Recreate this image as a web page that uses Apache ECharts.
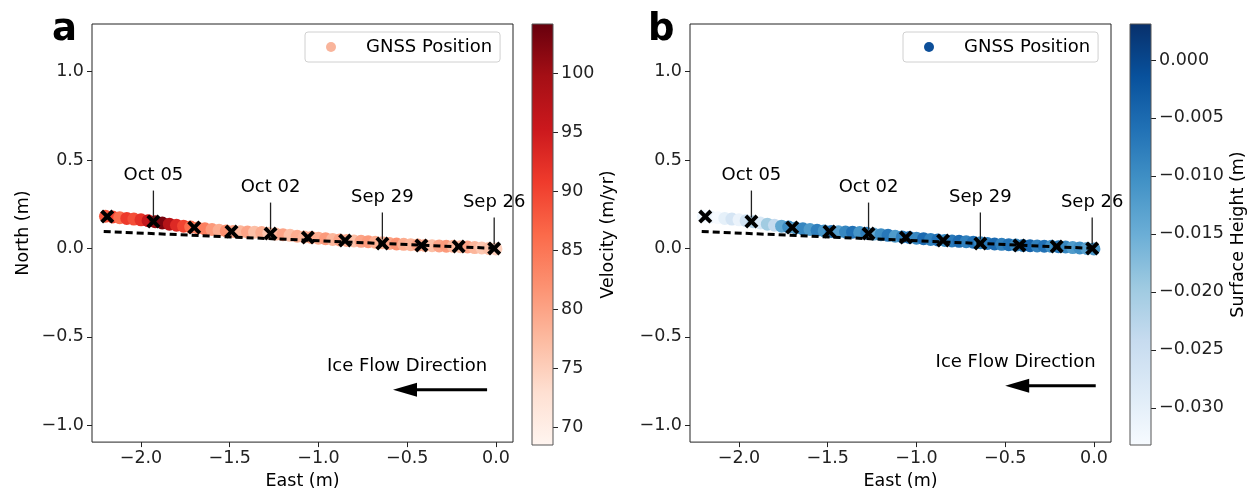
<!DOCTYPE html>
<html><head><meta charset="utf-8">
<script src="https://cdn.jsdelivr.net/npm/echarts@6/dist/echarts.min.js"></script>
<style>html,body{margin:0;padding:0;background:#fff}#c{width:1252px;height:495px}</style>
</head><body><div id="c"></div>
<script>
// ---- data ----
const trackEast = [-2.20,-2.16,-2.12,-2.08,-2.04,-2.00,-1.96,-1.92,-1.88,-1.84,-1.80,-1.76,-1.72,-1.68,-1.64,-1.60,-1.56,-1.52,-1.48,-1.44,-1.40,-1.36,-1.32,-1.28,-1.24,-1.20,-1.16,-1.12,-1.08,-1.04,-1.00,-0.96,-0.92,-0.88,-0.84,-0.80,-0.76,-0.72,-0.68,-0.64,-0.60,-0.56,-0.52,-0.48,-0.44,-0.40,-0.36,-0.32,-0.28,-0.24,-0.20,-0.16,-0.12,-0.08,-0.04,0.00];
const trackNorth = [0.182,0.178,0.174,0.170,0.166,0.162,0.157,0.151,0.144,0.137,0.131,0.126,0.121,0.116,0.111,0.107,0.103,0.099,0.096,0.094,0.093,0.092,0.090,0.086,0.081,0.078,0.074,0.069,0.065,0.062,0.058,0.055,0.051,0.048,0.045,0.042,0.040,0.038,0.035,0.032,0.028,0.025,0.023,0.021,0.019,0.017,0.015,0.014,0.013,0.012,0.010,0.008,0.005,0.003,0.000,-0.003];
const velocity = [88,90,86,91,89,92,96,101,103,98,93,90,86,83,84,81,79,82,80,78,80,77,79,76,78,80,77,79,78,80,79,81,78,80,79,77,80,81,79,78,80,82,79,78,80,79,77,80,81,78,77,80,78,76,77,75];
const surfaceHeight = [-0.032,-0.031,-0.033,-0.030,-0.027,-0.031,-0.026,-0.022,-0.028,-0.020,-0.024,-0.014,-0.010,-0.013,-0.009,-0.012,-0.008,-0.011,-0.007,-0.013,-0.009,-0.006,-0.011,-0.008,-0.014,-0.010,-0.007,-0.012,-0.008,-0.006,-0.009,-0.005,-0.008,-0.006,-0.010,-0.007,-0.005,-0.008,-0.006,-0.009,-0.007,-0.005,-0.008,-0.006,-0.009,-0.007,-0.004,-0.008,-0.006,-0.010,-0.007,-0.009,-0.012,-0.010,-0.013,-0.011];
const markerDates = ['Oct 06','Oct 05','Oct 04','Oct 03','Oct 02','Oct 01','Sep 30','Sep 29','Sep 28','Sep 27','Sep 26'];
const markerEast = [-2.19,-1.93,-1.70,-1.49,-1.27,-1.06,-0.85,-0.64,-0.42,-0.21,-0.01];
const markerNorth = [0.180,0.152,0.118,0.096,0.084,0.062,0.045,0.028,0.017,0.011,0.000];
const annotatedDates = ['Oct 05','Oct 02','Sep 29','Sep 26'];
const flowEast = [-2.21, 0.00];
const flowNorth = [0.096, 0.000];
const arrowA = [-0.05,-0.80,-0.58,-0.80];
const arrowB = [0.01,-0.777,-0.50,-0.777];
const xTicks = [-2.0,-1.5,-1.0,-0.5,0.0];
const yTicks = [-1.0,-0.5,0.0,0.5,1.0];
const velTicks = [70,75,80,85,90,95,100];
const hTicks = [-0.030,-0.025,-0.020,-0.015,-0.010,-0.005,0.000];
const xRange = [-2.276, 0.096];
const yRange = [-1.096, 1.27];
const velRange = [68.5, 104.2];
const hRange = [-0.0332, 0.0031];
const REDS = ['#fff5f0','#fee0d2','#fcbba1','#fc9272','#fb6a4a','#ef3b2c','#cb181d','#a50f15','#67000d'];
const BLUES = ['#f7fbff','#deebf7','#c6dbef','#9ecae1','#6baed6','#4292c6','#2171b5','#08519c','#08306b'];

const FONT = 'DejaVu Sans';
const TICKFS = 17.5;
const minus = v => (v < -1e-12 ? '\u2212' : '');
const fmt1 = v => minus(v) + Math.abs(v).toFixed(1);
const fmt3 = v => minus(v) + Math.abs(v).toFixed(3);

const trackA = trackEast.map((e,i)=>[e, trackNorth[i], velocity[i]]);
const trackB = trackEast.map((e,i)=>[e, trackNorth[i], surfaceHeight[i]]);
const markers = markerEast.map((e,i)=>[e, markerNorth[i]]);
const annot = annotatedDates.map(d => { const i = markerDates.indexOf(d); return [markerEast[i], markerNorth[i], i]; });
const flowLine = flowEast.map((e,i)=>[e, flowNorth[i]]);
const XSYM = 'path://M0,2 L2,0 L5,3 L8,0 L10,2 L7,5 L10,8 L8,10 L5,7 L2,10 L0,8 L3,5 Z';

function mainX(gi){
  return {gridIndex: gi, type:'value', min: xRange[0], max: xRange[1],
    name: 'East (m)', nameLocation:'middle', nameGap: 27,
    nameTextStyle:{fontFamily:FONT, fontSize:17.5, color:'#000'},
    axisLine:{show:false, onZero:false}, splitLine:{show:false},
    axisTick:{show:true, length:5, customValues: xTicks, lineStyle:{color:'#222'}},
    axisLabel:{customValues: xTicks, formatter: fmt1, fontFamily:FONT, fontSize:TICKFS, color:'#222', margin:7}};
}
function mainY(gi, showName){
  return {gridIndex: gi, type:'value', min: yRange[0], max: yRange[1],
    name: showName ? 'North (m)' : '', nameLocation:'middle', nameGap: 60, nameRotate: 90,
    nameTextStyle:{fontFamily:FONT, fontSize:17.5, color:'#000'},
    axisLine:{show:false, onZero:false}, splitLine:{show:false},
    axisTick:{show:true, length:5, customValues: yTicks, lineStyle:{color:'#222'}},
    axisLabel:{customValues: yTicks, formatter: fmt1, fontFamily:FONT, fontSize:TICKFS, color:'#222', margin:8}};
}
function cbX(gi){ return {gridIndex: gi, type:'value', min:0, max:1, show:false}; }
function cbY(gi, range, ticks, fmt, name, gap){
  return {gridIndex: gi, type:'value', min: range[0], max: range[1], position:'right',
    name: name, nameLocation:'middle', nameGap: gap, nameRotate: 90,
    nameTextStyle:{fontFamily:FONT, fontSize:17.5, color:'#000'},
    axisLine:{show:false, onZero:false}, splitLine:{show:false},
    axisTick:{show:true, length:5, customValues: ticks, lineStyle:{color:'#222'}},
    axisLabel:{customValues: ticks, formatter: fmt, fontFamily:FONT, fontSize:TICKFS, color:'#222', margin:8}};
}

function annotSeries(gi){
  return {type:'custom', xAxisIndex: gi, yAxisIndex: gi, data: annot, clip:false, z:4, silent:true,
    renderItem: (params, api) => {
      const p = api.coord([api.value(0), api.value(1)]);
      const label = markerDates[api.value(2)];
      return {type:'group', children:[
        {type:'line', shape:{x1:p[0], y1:p[1]-4, x2:p[0], y2:p[1]-31}, style:{stroke:'#222', lineWidth:1.3}},
        {type:'text', x:p[0], y:p[1]-46, style:{text:label, align:'center', verticalAlign:'middle', font:'18px "DejaVu Sans"', fill:'#000'}}
      ]};
    }};
}
function arrowSeries(gi, arr){
  return {type:'custom', xAxisIndex: gi, yAxisIndex: gi, data:[arr], clip:false, z:4, silent:true,
    renderItem: (params, api) => {
      const t = api.coord([api.value(0), api.value(1)]);
      const h = api.coord([api.value(2), api.value(3)]);
      const dx = h[0]-t[0], dy = h[1]-t[1], L = Math.sqrt(dx*dx+dy*dy);
      const ux = dx/L, uy = dy/L, hl = 24, hw = 7;
      const bx = h[0]-ux*hl, by = h[1]-uy*hl;
      return {type:'group', children:[
        {type:'line', shape:{x1:t[0], y1:t[1], x2:bx+ux*2, y2:by+uy*2}, style:{stroke:'#000', lineWidth:3}},
        {type:'polygon', shape:{points:[[h[0],h[1]],[bx-uy*hw, by+ux*hw],[bx+uy*hw, by-ux*hw]]}, style:{fill:'#000'}},
        {type:'text', x:t[0], y:t[1]-23, style:{text:'Ice Flow Direction', align:'right', verticalAlign:'middle', font:'18px "DejaVu Sans"', fill:'#000'}}
      ]};
    }};
}
function cbSeries(gi, range, cmap){
  return {type:'custom', xAxisIndex: gi, yAxisIndex: gi, data:[[range[0], range[1]]], clip:false, silent:true,
    renderItem: (params, api) => {
      const p1 = api.coord([0, api.value(1)]);
      const p2 = api.coord([1, api.value(0)]);
      const stops = cmap.map((c,i)=>({offset: 1 - i/(cmap.length-1), color:c})).reverse();
      return {type:'rect', shape:{x:p1[0], y:p1[1], width:p2[0]-p1[0], height:p2[1]-p1[1]},
        style:{fill: new echarts.graphic.LinearGradient(0,0,0,1, stops), stroke:'#555', lineWidth:1}};
    }};
}
function panelSeries(gi, track){
  return [
    {type:'scatter', name:'GNSS Position', xAxisIndex:gi, yAxisIndex:gi, data: track, symbolSize:13, z:2, itemStyle:{opacity:1}},
    {type:'line', xAxisIndex:gi, yAxisIndex:gi, data: flowLine, symbol:'none', z:3, silent:true,
      lineStyle:{color:'#000', width:3, type:[7,4]}},
    annotSeries(gi),
    {type:'scatter', xAxisIndex:gi, yAxisIndex:gi, data: markers, symbol: XSYM, symbolSize:14, z:5,
      itemStyle:{color:'#000', opacity:1}, silent:true}
  ];
}

const chart = echarts.init(document.getElementById('c'), null, {renderer:'canvas'});
const legendBase = (left, color) => ({
  left: left, top: 32, orient:'horizontal', icon:'circle', itemWidth:10, itemHeight:10,
  padding:[6, 8, 6, 21], borderColor:'#d0d0d0', borderWidth:1, borderRadius:3, backgroundColor:'#fff',
  textStyle:{fontFamily:FONT, fontSize:18, color:'#000', padding:[0,0,0,25]},
  data:[{name:'GNSS Position', itemStyle:{color: color}}], selectedMode:false
});
chart.setOption({
  animation:false,
  textStyle:{fontFamily:FONT},
  grid:[
    {left:92, top:24, width:421, height:421, show:true, borderColor:'#222', borderWidth:1, backgroundColor:'transparent'},
    {left:532, top:24, width:21, height:421},
    {left:690, top:24, width:421, height:421, show:true, borderColor:'#222', borderWidth:1, backgroundColor:'transparent'},
    {left:1130, top:24, width:21, height:421}
  ],
  xAxis:[mainX(0), cbX(1), mainX(2), cbX(3)],
  yAxis:[mainY(0,true), cbY(1, velRange, velTicks, v=>String(v), 'Velocity (m/yr)', 46),
         mainY(2,false), cbY(3, hRange, hTicks, fmt3, 'Surface Height (m)', 78)],
  visualMap:[
    {type:'continuous', show:false, seriesIndex:0, dimension:2, min:velRange[0], max:velRange[1], inRange:{color:REDS}},
    {type:'continuous', show:false, seriesIndex:4, dimension:2, min:hRange[0], max:hRange[1], inRange:{color:BLUES}}
  ],
  legend:[legendBase(305, '#f9b49b'), legendBase(903, '#0d4f99')],
  series:[
    ...panelSeries(0, trackA),
    ...panelSeries(2, trackB),
    arrowSeries(0, arrowA),
    arrowSeries(2, arrowB),
    cbSeries(1, velRange, REDS),
    cbSeries(3, hRange, BLUES)
  ],
  graphic:[
    {type:'text', left:52, top:12, style:{text:'a', font:'bold 37px "DejaVu Sans"', fill:'#000'}},
    {type:'text', left:648, top:12, style:{text:'b', font:'bold 37px "DejaVu Sans"', fill:'#000'}}
  ]
});
</script></body></html>
